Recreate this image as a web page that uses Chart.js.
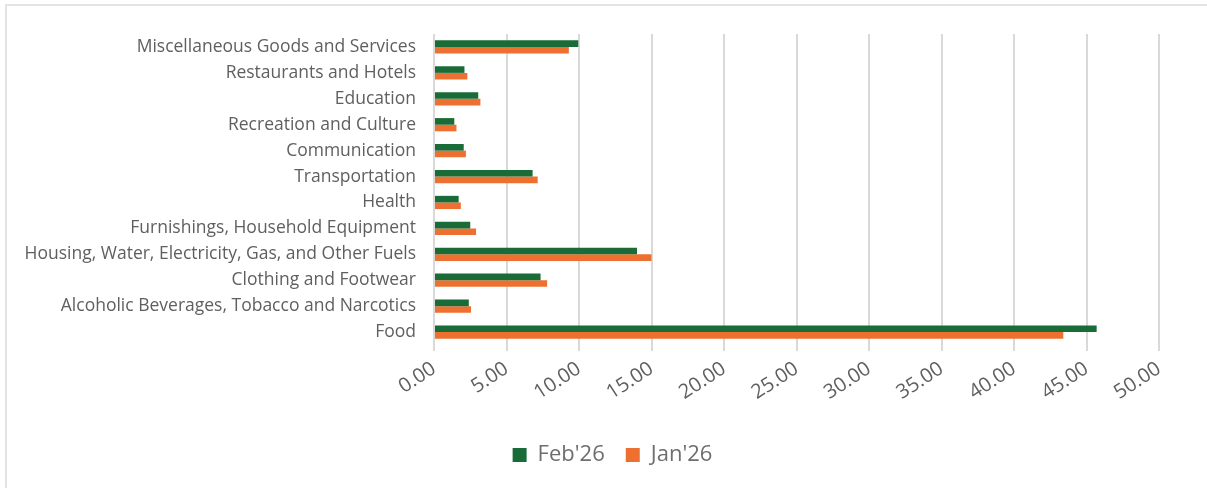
<!DOCTYPE html>
<html>
<head>
    <title>Inflation weights by category</title>
    <script src="https://cdn.jsdelivr.net/npm/chart.js"></script>
    <style>
    body { margin: 0; background: #fff; }
    #wrap { position: relative; width: 1207px; height: 488px; }
    #frame {
        position: absolute; left: 5px; top: 4px; right: 0; bottom: -10px;
        border-top: 2px solid #e3e3e3; border-left: 2px solid #e3e3e3;
        pointer-events: none;
    }
    </style>
</head>
<body>
<div id="wrap">
    <canvas id="chart" width="1207" height="488"></canvas>
    <div id="frame"></div>
</div>
<script>
const categories = [
    'Miscellaneous Goods and Services',
    'Restaurants and Hotels',
    'Education',
    'Recreation and Culture',
    'Communication',
    'Transportation',
    'Health',
    'Furnishings, Household Equipment',
    'Housing, Water, Electricity, Gas, and Other Fuels',
    'Clothing and Footwear',
    'Alcoholic Beverages, Tobacco and Narcotics',
    'Food'
];
const feb26 = [9.95, 2.1, 3.05, 1.4, 2.05, 6.8, 1.7, 2.5, 14.0, 7.35, 2.4, 45.7];
const jan26 = [9.3, 2.3, 3.2, 1.55, 2.2, 7.15, 1.85, 2.9, 15.0, 7.8, 2.55, 43.4];
const seriesNames = ["Feb'26", "Jan'26"];

const gray = '#5f5f5f';
const font = 'Open Sans';

// legend sits a bit right of canvas center in the original
const legendShift = {
    id: 'legendShift',
    afterLayout(chart) {
        chart.legend.left += 28;
        chart.legend.right += 28;
    }
};

new Chart(document.getElementById('chart'), {
    type: 'bar',
    data: {
        labels: categories,
        datasets: [
            { label: seriesNames[0], data: feb26, backgroundColor: '#196B37' },
            { label: seriesNames[1], data: jan26, backgroundColor: '#ED7031' }
        ]
    },
    options: {
        indexAxis: 'y',
        responsive: false,
        animation: false,
        datasets: { bar: { categoryPercentage: 0.51, barPercentage: 1.0 } },
        layout: { padding: { left: 10, right: 48, top: 34, bottom: 12 } },
        scales: {
            x: {
                min: 0, max: 50,
                ticks: {
                    stepSize: 5,
                    color: gray,
                    padding: 6,
                    font: { family: font, size: 20 },
                    minRotation: 33, maxRotation: 33,
                    callback: v => Number(v).toFixed(2)
                },
                grid: { color: '#d9d9d9', lineWidth: 2, tickLength: 6, tickColor: '#d9d9d9' },
                border: { display: false },
                afterFit: s => { s.height = 78; }
            },
            y: {
                ticks: { color: gray, font: { family: font, size: 17.5 }, padding: 10, autoSkip: false },
                grid: { display: false },
                border: { display: false },
                afterFit: s => { s.width = 424; }
            }
        },
        plugins: {
            legend: {
                position: 'bottom',
                labels: {
                    color: '#6e6e6e',
                    font: { family: font, size: 22 },
                    boxWidth: 14, boxHeight: 14,
                    padding: 21
                }
            },
            tooltip: { enabled: false }
        }
    },
    plugins: [legendShift]
});
</script>
</body>
</html>
